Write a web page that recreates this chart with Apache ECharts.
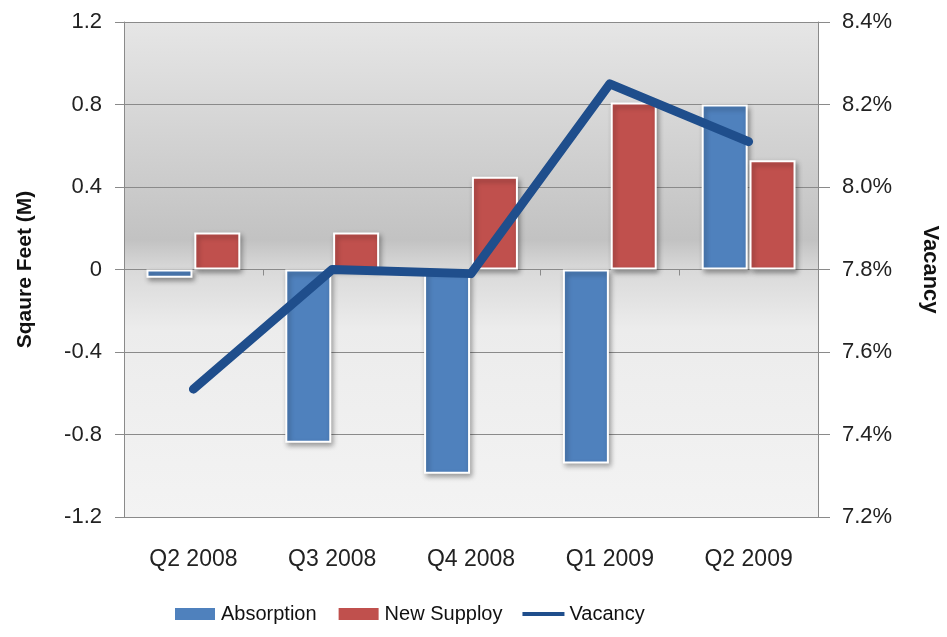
<!DOCTYPE html>
<html>
<head>
<meta charset="utf-8">
<script src="https://cdn.jsdelivr.net/npm/echarts@6/dist/echarts.min.js"></script>
<style>
  html, body { margin: 0; padding: 0; background: #fff; }
  #grafico { width: 947px; height: 637px; }
</style>
</head>
<body>
<div id="grafico"></div>
<script>
let trimestres = ['Q2 2008', 'Q3 2008', 'Q4 2008', 'Q1 2009', 'Q2 2009'];
let absorcion = [-0.04, -0.84, -0.99, -0.94, 0.80];
let nuevaOferta = [0.18, 0.18, 0.45, 0.81, 0.53];
let vacancia = [7.51, 7.80, 7.79, 8.25, 8.11];

let fuente = 'Liberation Sans, Arial, sans-serif';

function dibujarGrafico() {
    let graf = echarts.init(document.getElementById('grafico'));

    let sombra = {
        borderColor: '#ffffff',
        borderWidth: 2,
        shadowColor: 'rgba(0,0,0,0.35)',
        shadowBlur: 5,
        shadowOffsetX: 2,
        shadowOffsetY: 3
    };

    let option = {
        animation: false,
        textStyle: { fontFamily: fuente },
        grid: {
            left: 124, right: 129, top: 22, bottom: 120,
            outerBoundsMode: 'none',
            containLabel: false,
            show: true,
            borderWidth: 0,
            backgroundColor: new echarts.graphic.LinearGradient(0, 0, 0, 1, [
                { offset: 0, color: '#e6e6e6' },
                { offset: 0.44, color: '#c2c2c2' },
                { offset: 0.5, color: '#d9d9d9' },
                { offset: 0.62, color: '#ececec' },
                { offset: 1, color: '#f3f3f3' }
            ])
        },
        legend: {
            bottom: 8,
            left: 168,
            itemWidth: 42,
            itemHeight: 14,
            itemGap: 20,
            textStyle: { fontSize: 20, color: '#111', fontFamily: fuente },
            data: [
                { name: 'Absorption', icon: 'rect' },
                { name: 'New Supploy', icon: 'rect' },
                { name: 'Vacancy', icon: 'path://M0,0 L42,0 L42,4 L0,4 Z' }
            ]
        },
        xAxis: [
            {
                type: 'category',
                data: trimestres,
                position: 'bottom',
                axisLine: { show: false, onZero: false },
                axisTick: { show: false },
                axisLabel: { fontSize: 23, color: '#222', margin: 31 }
            },
            {
                type: 'category',
                data: trimestres,
                position: 'top',
                axisLine: { onZero: true, onZeroAxisIndex: 0, lineStyle: { color: '#8a8a8a', width: 1 } },
                axisTick: { show: true, inside: true, length: 6, lineStyle: { color: '#8a8a8a' } },
                axisLabel: { show: false }
            }
        ],
        yAxis: [
            {
                type: 'value',
                min: -1.2, max: 1.2, interval: 0.4,
                name: 'Sqaure Feet (M)',
                nameLocation: 'middle',
                nameGap: 88,
                nameTextStyle: { fontSize: 21, fontWeight: 'bold', color: '#111' },
                axisLine: { show: true, lineStyle: { color: '#8a8a8a' } },
                axisTick: { show: true, length: 9, lineStyle: { color: '#8a8a8a' } },
                axisLabel: {
                    fontSize: 22, color: '#222', margin: 22,
                    formatter: v => (Math.abs(v) < 1e-9 ? '0' : v.toFixed(1))
                },
                splitLine: { lineStyle: { color: '#8a8a8a', width: 1 } }
            },
            {
                type: 'value',
                min: 7.2, max: 8.4, interval: 0.2,
                name: 'Vacancy',
                nameLocation: 'middle',
                nameRotate: -90,
                nameGap: 101,
                nameTextStyle: { fontSize: 22, fontWeight: 'bold', color: '#111' },
                axisLine: { show: true, lineStyle: { color: '#8a8a8a' } },
                axisTick: { show: true, length: 12, lineStyle: { color: '#8a8a8a' } },
                axisLabel: {
                    fontSize: 22, color: '#222', margin: 24,
                    formatter: v => v.toFixed(1) + '%'
                },
                splitLine: { show: false }
            }
        ],
        series: [
            {
                name: 'Absorption',
                type: 'bar',
                data: absorcion,
                barWidth: 46,
                barGap: '4%',
                itemStyle: Object.assign({ color: '#4f81bd' }, sombra)
            },
            {
                name: 'New Supploy',
                type: 'bar',
                data: nuevaOferta,
                barWidth: 46,
                itemStyle: Object.assign({ color: '#c0504d' }, sombra)
            },
            {
                name: 'Vacancy',
                type: 'line',
                yAxisIndex: 1,
                data: vacancia,
                symbol: 'none',
                z: 5,
                lineStyle: { color: '#1f4e8c', width: 9, cap: 'round', join: 'round' },
                itemStyle: { color: '#1f4e8c' }
            }
        ]
    };

    graf.setOption(option);
}

dibujarGrafico();
</script>
</body>
</html>
